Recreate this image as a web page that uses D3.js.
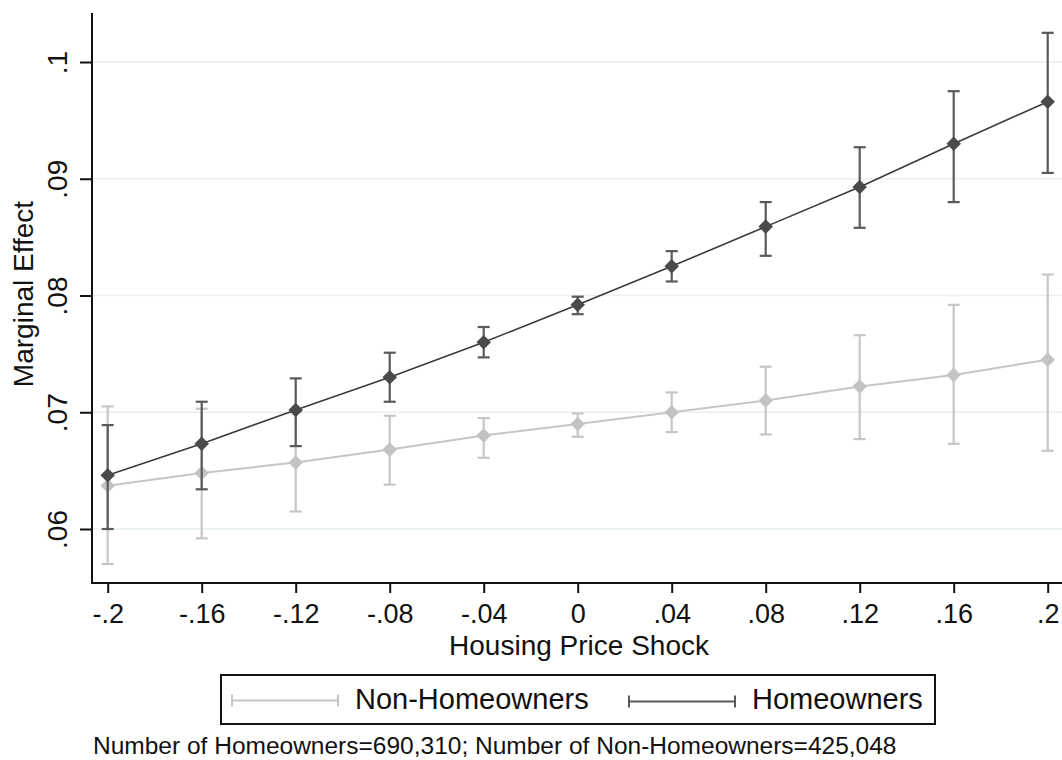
<!DOCTYPE html>
<html>
<head>
<meta charset="utf-8">
<script src="https://cdn.jsdelivr.net/npm/d3@7"></script>
<style>
  html, body { margin: 0; padding: 0; background: #fff; }
  svg { display: block; font-family: "Liberation Sans", Arial, sans-serif; }
</style>
</head>
<body>
<svg id="chart" width="1062" height="760"></svg>
<script>
// Housing price shock values (x) and marginal-effect estimates with 95% CIs
const shocks = [-0.2, -0.16, -0.12, -0.08, -0.04, 0, 0.04, 0.08, 0.12, 0.16, 0.2];

const ownerEst   = [0.0646, 0.0673, 0.0702, 0.0730, 0.0760, 0.0792, 0.0825, 0.0859, 0.0893, 0.0930, 0.0966];
const ownerLo    = [0.0600, 0.0634, 0.0671, 0.0709, 0.0747, 0.0784, 0.0812, 0.0834, 0.0858, 0.0880, 0.0905];
const ownerHi    = [0.0689, 0.0709, 0.0729, 0.0751, 0.0773, 0.0799, 0.0838, 0.0880, 0.0927, 0.0975, 0.1025];

const renterEst  = [0.0637, 0.0648, 0.0657, 0.0668, 0.0680, 0.0690, 0.0700, 0.0710, 0.0722, 0.0732, 0.0745];
const renterLo   = [0.0570, 0.0592, 0.0615, 0.0638, 0.0661, 0.0679, 0.0683, 0.0681, 0.0677, 0.0673, 0.0667];
const renterHi   = [0.0705, 0.0703, 0.0700, 0.0697, 0.0695, 0.0699, 0.0717, 0.0739, 0.0766, 0.0792, 0.0818];

const xTicks = [-0.2, -0.16, -0.12, -0.08, -0.04, 0, 0.04, 0.08, 0.12, 0.16, 0.2];
const yTicks = [0.06, 0.07, 0.08, 0.09, 0.1];

const seriesNames = ["Non-Homeowners", "Homeowners"];
const xTitle = "Housing Price Shock";
const yTitle = "Marginal Effect";
const note = "Number of Homeowners=690,310; Number of Non-Homeowners=425,048";

// Stata-style tick labels: drop the leading zero
const fmt = v => {
  if (v === 0) return "0";
  let s = String(+v.toFixed(2));
  return s.replace(/^(-?)0\./, "$1.");
};

const svg = d3.select("#chart");

const x = d3.scaleLinear().domain([-0.2, 0.2]).range([107.7, 1047.7]);
const y = d3.scaleLinear().domain([0.06, 0.1]).range([529, 62]);

const plotLeft = 92, plotRight = 1062, plotTop = 13, plotBottom = 583;

// grid lines
svg.append("g").selectAll("line").data(yTicks).join("line")
  .attr("x1", plotLeft).attr("x2", plotRight)
  .attr("y1", d => y(d)).attr("y2", d => y(d))
  .attr("stroke", "#e6eff1").attr("stroke-width", 1.6);

// axes
const yAxis = d3.axisLeft(y).tickValues(yTicks).tickFormat(fmt).tickSize(12).tickSizeOuter(0);
const gy = svg.append("g").attr("transform", `translate(${plotLeft},0)`).call(yAxis);
gy.select(".domain").remove();
gy.append("line").attr("x1", 0).attr("x2", 0).attr("y1", plotTop).attr("y2", plotBottom + 1)
  .attr("stroke", "#111").attr("stroke-width", 2);
gy.selectAll(".tick line").attr("stroke", "#111").attr("stroke-width", 2);
gy.selectAll(".tick text")
  .attr("font-size", 28).attr("fill", "#111")
  .attr("text-anchor", "middle")
  .attr("x", 0).attr("dy", 0)
  .attr("transform", "translate(-25,0) rotate(-90)")
  .attr("y", 0);

const xAxis = d3.axisBottom(x).tickValues(xTicks).tickFormat(fmt).tickSize(10).tickSizeOuter(0);
const gx = svg.append("g").attr("transform", `translate(0,${plotBottom})`).call(xAxis);
gx.select(".domain").remove();
gx.append("line").attr("x1", plotLeft - 1).attr("x2", plotRight).attr("y1", 0).attr("y2", 0)
  .attr("stroke", "#111").attr("stroke-width", 2);
gx.selectAll(".tick line").attr("stroke", "#111").attr("stroke-width", 2);
gx.selectAll(".tick text")
  .attr("font-size", 27).attr("fill", "#111")
  .attr("y", 40).attr("dy", 0);

// axis titles
svg.append("text").attr("transform", "translate(33,294) rotate(-90)")
  .attr("text-anchor", "middle").attr("font-size", 28).attr("fill", "#111").text(yTitle);
svg.append("text").attr("x", 579).attr("y", 655)
  .attr("text-anchor", "middle").attr("font-size", 28).attr("fill", "#111").text(xTitle);

// draws one series: CI caps, connecting line, diamond markers
function drawSeries(est, lo, hi, opt) {
  const g = svg.append("g");
  const rows = shocks.map((s, i) => ({ s, est: est[i], lo: lo[i], hi: hi[i] }));
  const cap = 6;
  g.selectAll("line.bar").data(rows).join("line").attr("class", "bar")
    .attr("x1", d => x(d.s)).attr("x2", d => x(d.s))
    .attr("y1", d => y(d.lo)).attr("y2", d => y(d.hi))
    .attr("stroke", opt.bar).attr("stroke-width", 2.2);
  g.selectAll("line.capHi").data(rows).join("line").attr("class", "capHi")
    .attr("x1", d => x(d.s) - cap).attr("x2", d => x(d.s) + cap)
    .attr("y1", d => y(d.hi)).attr("y2", d => y(d.hi))
    .attr("stroke", opt.bar).attr("stroke-width", 2.2);
  g.selectAll("line.capLo").data(rows).join("line").attr("class", "capLo")
    .attr("x1", d => x(d.s) - cap).attr("x2", d => x(d.s) + cap)
    .attr("y1", d => y(d.lo)).attr("y2", d => y(d.lo))
    .attr("stroke", opt.bar).attr("stroke-width", 2.2);
  g.append("path").datum(rows)
    .attr("d", d3.line().x(d => x(d.s)).y(d => y(d.est)))
    .attr("fill", "none").attr("stroke", opt.line).attr("stroke-width", opt.lw);
  g.selectAll("path.mk").data(rows).join("path").attr("class", "mk")
    .attr("d", d3.symbol(d3.symbolDiamond2, 135)())
    .attr("transform", d => `translate(${x(d.s)},${y(d.est)})`)
    .attr("fill", opt.marker);
}

drawSeries(renterEst, renterLo, renterHi,
  { bar: "#c6c6c6", line: "#c6c6c6", marker: "#c3c3c3", lw: 2 });
drawSeries(ownerEst, ownerLo, ownerHi,
  { bar: "#5a5a5a", line: "#3a3a3a", marker: "#4a4a4a", lw: 1.6 });

// legend
const lg = svg.append("g");
lg.append("rect").attr("x", 221).attr("y", 675).attr("width", 714).attr("height", 49)
  .attr("fill", "#fff").attr("stroke", "#111").attr("stroke-width", 2);
const keys = [
  { x0: 232, x1: 338, ty: 700.5, tx: 355, color: "#c6c6c6", name: seriesNames[0] },
  { x0: 629, x1: 735, ty: 701.5, tx: 752, color: "#5a5a5a", name: seriesNames[1] }
];
keys.forEach(k => {
  lg.append("line").attr("x1", k.x0).attr("x2", k.x1).attr("y1", k.ty).attr("y2", k.ty)
    .attr("stroke", k.color).attr("stroke-width", 2);
  [k.x0, k.x1].forEach(cx => lg.append("line").attr("x1", cx).attr("x2", cx)
    .attr("y1", k.ty - 6).attr("y2", k.ty + 6).attr("stroke", k.color).attr("stroke-width", 2));
  lg.append("text").attr("x", k.tx).attr("y", 709).attr("font-size", 29).attr("fill", "#111").text(k.name);
});

// sample-size note
svg.append("text").attr("x", 93).attr("y", 754).attr("font-size", 24.5).attr("fill", "#111").text(note);
</script>
</body>
</html>
